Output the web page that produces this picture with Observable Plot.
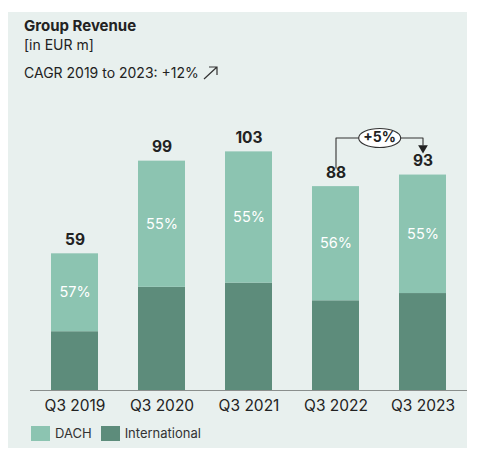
<!DOCTYPE html>
<html><head><meta charset="utf-8">
<script src="https://cdn.jsdelivr.net/npm/d3@7"></script>
<script src="https://cdn.jsdelivr.net/npm/@observablehq/plot@0.6"></script>
<style>
body{margin:0;background:#fff;font-family:Inter, "Noto Sans", sans-serif;color:#222;}
#panel{position:absolute;left:8px;top:12px;width:459px;height:436px;background:#e8f0ee;overflow:visible;}
#title{position:absolute;left:16px;top:5px;font-size:15px;font-weight:700;line-height:18px;color:#222;}
#unit{position:absolute;left:16px;top:24px;font-size:14px;line-height:18px;color:#222;}
#cagr{position:absolute;left:16px;top:52px;font-size:14px;line-height:18px;color:#222;}
#cagr svg{vertical-align:-2px;margin-left:4px;}
#chart{position:absolute;left:-8px;top:88px;width:500px;}
#chart svg{max-width:none !important;}
#legend{position:absolute;left:23px;top:413px;font-size:13px;line-height:16px;color:#333;display:flex;align-items:center;}
.sw{display:inline-block;width:19px;height:15px;margin-right:5px;}
</style></head>
<body>
<div id="panel">
  <div id="title">Group Revenue</div>
  <div id="unit">[in EUR m]</div>
  <div id="cagr">CAGR 2019 to 2023: +12%<svg width="16" height="14" viewBox="0 0 16 14"><path d="M1 13 L14 1 M6 1 L14 1 L14 9" fill="none" stroke="#333" stroke-width="1.2"/></svg></div>
  <div id="chart"></div>
  <div id="legend"></div>
</div>
<script>
const years = ["Q3 2019", "Q3 2020", "Q3 2021", "Q3 2022", "Q3 2023"];
const totals = [59, 99, 103, 88, 93];
const dachShare = [57, 55, 55, 56, 55];
const segments = ["DACH", "International"];
const segmentColors = ["#8cc4b1", "#5d8c7b"];
const growthFrom = "Q3 2022";
const growthTo = "Q3 2023";
const growthLabel = "+5%";

const rows = [];
years.forEach((y, i) => {
  const dach = totals[i] * dachShare[i] / 100;
  rows.push({year: y, segment: "International", value: totals[i] - dach});
});
years.forEach((y, i) => {
  const dach = totals[i] * dachShare[i] / 100;
  rows.push({year: y, segment: "DACH", value: dach});
});
const totalRows = years.map((y, i) => ({year: y, total: totals[i]}));
const shareRows = years.map((y, i) => {
  const dach = totals[i] * dachShare[i] / 100;
  return {year: y, mid: totals[i] - dach / 2, label: dachShare[i] + "%"};
});
const i0 = years.indexOf(growthFrom), i1 = years.indexOf(growthTo);
const bracketTop = 109;
const bracket = [
  {year: growthFrom, v: 96},
  {year: growthFrom, v: bracketTop},
  {year: growthTo, v: bracketTop},
  {year: growthTo, v: 106}
];

const k = 0.5523, rx = 21, ry = 9.5;
const ellipse = {draw(c) {
  c.moveTo(rx, 0);
  c.bezierCurveTo(rx, ry * k, rx * k, ry, 0, ry);
  c.bezierCurveTo(-rx * k, ry, -rx, ry * k, -rx, 0);
  c.bezierCurveTo(-rx, -ry * k, -rx * k, -ry, 0, -ry);
  c.bezierCurveTo(rx * k, -ry, rx, -ry * k, rx, 0);
  c.closePath();
}};

const chart = Plot.plot({
  width: 500,
  height: 322,
  marginLeft: 30,
  marginRight: 33,
  marginTop: 12,
  marginBottom: 32,
  style: {background: "transparent", fontFamily: "Inter, 'Noto Sans', sans-serif", color: "#222", maxWidth: "none"},
  x: {domain: years, paddingInner: 0.46, paddingOuter: 0.23, label: null, tickSize: 0, tickPadding: 9},
  y: {domain: [0, 120], axis: null},
  color: {domain: segments, range: segmentColors},
  marks: [
    Plot.barY(rows, {x: "year", y: "value", fill: "segment", z: "segment", order: null}),
    Plot.ruleY([0], {stroke: "#8a8f8d", strokeWidth: 1.2}),
    Plot.axisX({tickSize: 0, tickPadding: 9, fontSize: 15.5, label: null, fill: "#222"}),
    Plot.text(totalRows, {x: "year", y: "total", text: d => String(d.total), dy: -14, fontSize: 15.5, fontWeight: 700, fill: "#222"}),
    Plot.text(shareRows, {x: "year", y: "mid", text: "label", fontSize: 14.5, fill: "#ffffff"}),
    Plot.line(bracket, {x: "year", y: "v", stroke: "#333", strokeWidth: 1.1, curve: "linear"}),
    Plot.dot([{year: growthTo, v: 104.7}], {x: "year", y: "v", symbol: "triangle", rotate: 180, r: 3.6, fill: "#222", stroke: "none"}),
    Plot.dot([{year: growthFrom, v: bracketTop}], {x: "year", y: "v", symbol: ellipse, fill: "#ffffff", stroke: "#333", strokeWidth: 1.1, dx: 43.7}),
    Plot.text([{year: growthFrom, v: bracketTop}], {x: "year", y: "v", text: () => growthLabel, dx: 43.7, fontSize: 14, fontWeight: 700, fill: "#222"})
  ]
});
document.getElementById("chart").appendChild(chart);

const legend = document.getElementById("legend");
segments.forEach((s, i) => {
  const item = document.createElement("span");
  item.style.display = "inline-flex";
  item.style.alignItems = "center";
  item.style.marginRight = i === 0 ? "9px" : "0";
  item.innerHTML = `<span class="sw" style="background:${segmentColors[i]}"></span>${s}`;
  legend.appendChild(item);
});
</script>
</body></html>
